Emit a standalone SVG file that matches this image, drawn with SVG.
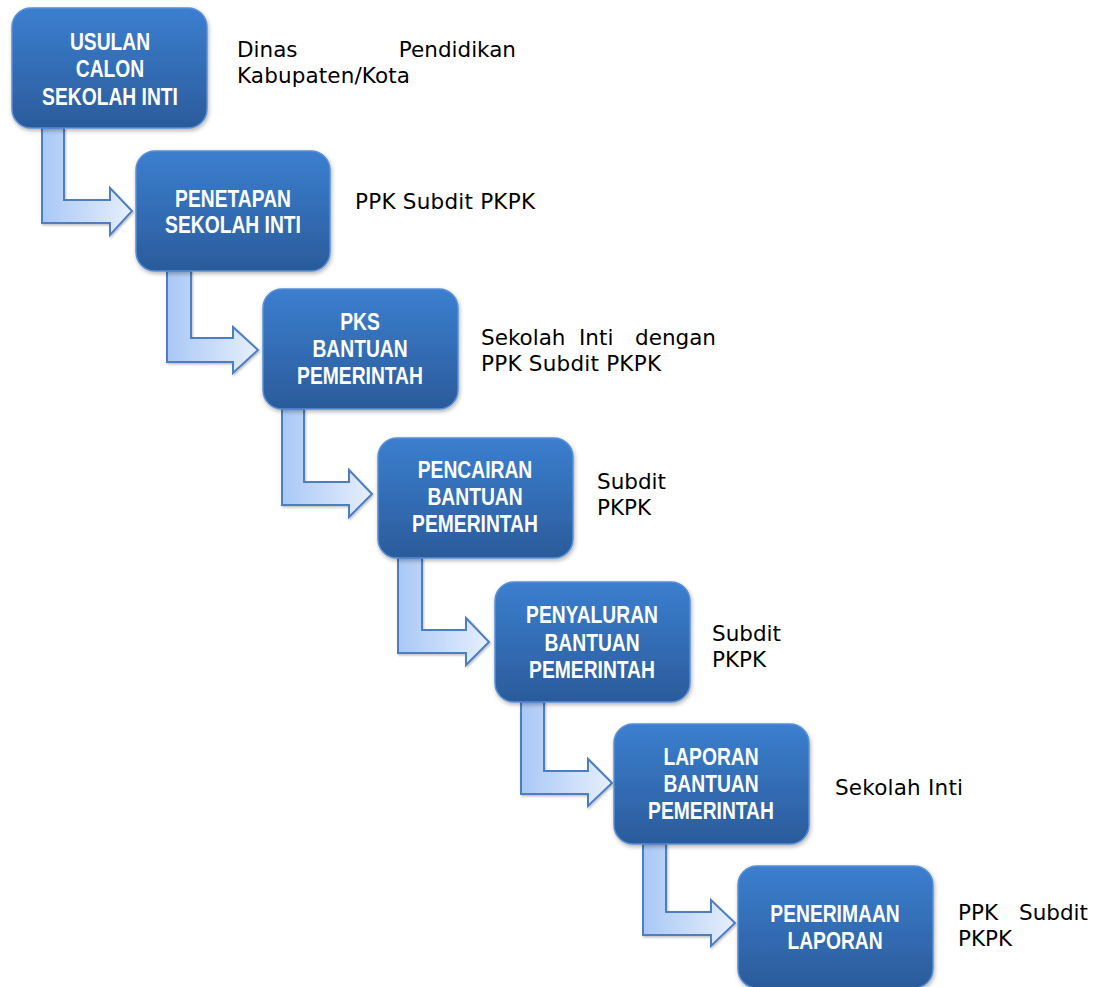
<svg xmlns="http://www.w3.org/2000/svg" width="1093" height="987" viewBox="0 0 1093 987">
<defs>
<linearGradient id="boxg" x1="0" y1="0" x2="0" y2="1">
<stop offset="0" stop-color="#3b7fcf"/>
<stop offset="1" stop-color="#2b5b9b"/>
</linearGradient>
<linearGradient id="arrg" x1="0" y1="0" x2="1" y2="0">
<stop offset="0" stop-color="#a9c8f6"/>
<stop offset="1" stop-color="#e6effc"/>
</linearGradient>
<filter id="sh" x="-10%" y="-10%" width="125%" height="130%">
<feDropShadow dx="1" dy="2" stdDeviation="2" flood-color="#000" flood-opacity="0.3"/>
</filter>
<filter id="ash" x="-10%" y="-10%" width="130%" height="130%">
<feDropShadow dx="1" dy="1.5" stdDeviation="1.2" flood-color="#000" flood-opacity="0.25"/>
</filter>
</defs>
<style>
.box{fill:url(#boxg);stroke:#5a8fd6;stroke-width:1.5;filter:url(#sh)}
.arr{fill:url(#arrg);stroke:#4d7ec2;stroke-width:2;stroke-linejoin:miter;filter:url(#ash)}
.bt{font-family:"Liberation Sans",Arial,sans-serif;font-weight:bold;font-size:23.5px;fill:#ffffff;text-anchor:middle}
.lt{font-family:"DejaVu Sans",Verdana,sans-serif;font-size:21.5px;fill:#000000}
.end{text-anchor:end}
</style>
<rect width="1093" height="987" fill="#ffffff"/>
<g id="connectors">
<path class="arr" d="M42 128 L64 128 L64 200 L110 200 L110 188 L132 211 L110 235 L110 223 L42 223 Z"/>
<path class="arr" d="M167 271 L191 271 L191 338 L233 338 L233 327 L258 350 L233 373 L233 362 L167 362 Z"/>
<path class="arr" d="M282 409 L304 409 L304 482 L349 482 L349 470 L372 494 L349 517 L349 505 L282 505 Z"/>
<path class="arr" d="M398 558 L422 558 L422 630 L466 630 L466 618 L489 642 L466 665 L466 653 L398 653 Z"/>
<path class="arr" d="M521 702 L544 702 L544 771 L588 771 L588 759 L612 783 L588 806 L588 794 L521 794 Z"/>
<path class="arr" d="M643 844 L666 844 L666 912 L711 912 L711 900 L735 923 L711 946 L711 935 L643 935 Z"/>
</g>
<g id="node1">
<rect class="box" x="12" y="8" width="195" height="120" rx="19"/>
<text class="bt" transform="translate(110 0) scale(0.82 1)"><tspan x="0" y="50">USULAN</tspan><tspan x="0" y="77.5">CALON</tspan><tspan x="0" y="105">SEKOLAH INTI</tspan></text>
</g>
<g id="node2">
<rect class="box" x="136" y="151" width="194" height="120" rx="19"/>
<text class="bt" transform="translate(233 0) scale(0.82 1)"><tspan x="0" y="207">PENETAPAN</tspan><tspan x="0" y="233.5">SEKOLAH INTI</tspan></text>
</g>
<g id="node3">
<rect class="box" x="263" y="289" width="195" height="120" rx="19"/>
<text class="bt" transform="translate(360 0) scale(0.82 1)"><tspan x="0" y="330">PKS</tspan><tspan x="0" y="357">BANTUAN</tspan><tspan x="0" y="384">PEMERINTAH</tspan></text>
</g>
<g id="node4">
<rect class="box" x="378" y="438" width="195" height="120" rx="19"/>
<text class="bt" transform="translate(475 0) scale(0.82 1)"><tspan x="0" y="478">PENCAIRAN</tspan><tspan x="0" y="505">BANTUAN</tspan><tspan x="0" y="532.5">PEMERINTAH</tspan></text>
</g>
<g id="node5">
<rect class="box" x="495" y="582" width="195" height="120" rx="19"/>
<text class="bt" transform="translate(592 0) scale(0.82 1)"><tspan x="0" y="623.5">PENYALURAN</tspan><tspan x="0" y="651">BANTUAN</tspan><tspan x="0" y="678">PEMERINTAH</tspan></text>
</g>
<g id="node6">
<rect class="box" x="614" y="724" width="195" height="120" rx="19"/>
<text class="bt" transform="translate(711 0) scale(0.82 1)"><tspan x="0" y="765">LAPORAN</tspan><tspan x="0" y="792">BANTUAN</tspan><tspan x="0" y="819.5">PEMERINTAH</tspan></text>
</g>
<g id="node7">
<rect class="box" x="738" y="866" width="195" height="122" rx="19"/>
<text class="bt" transform="translate(835 0) scale(0.82 1)"><tspan x="0" y="922">PENERIMAAN</tspan><tspan x="0" y="949">LAPORAN</tspan></text>
</g>
<g id="labels">
<text class="lt" x="237" y="57">Dinas</text>
<text class="lt end" x="516" y="57">Pendidikan</text>
<text class="lt" x="237" y="83" textLength="173">Kabupaten/Kota</text>
<text class="lt" x="355" y="209" textLength="180">PPK Subdit PKPK</text>
<text class="lt" x="481" y="345">Sekolah</text>
<text class="lt" x="579" y="345">Inti</text>
<text class="lt end" x="716" y="345">dengan</text>
<text class="lt" x="481" y="371" textLength="180">PPK Subdit PKPK</text>
<text class="lt" x="597" y="489">Subdit</text>
<text class="lt" x="597" y="515">PKPK</text>
<text class="lt" x="712" y="641">Subdit</text>
<text class="lt" x="712" y="667">PKPK</text>
<text class="lt" x="835" y="795" textLength="128">Sekolah Inti</text>
<text class="lt" x="958" y="920">PPK</text>
<text class="lt end" x="1088" y="920">Subdit</text>
<text class="lt" x="958" y="946">PKPK</text>
</g>
</svg>
